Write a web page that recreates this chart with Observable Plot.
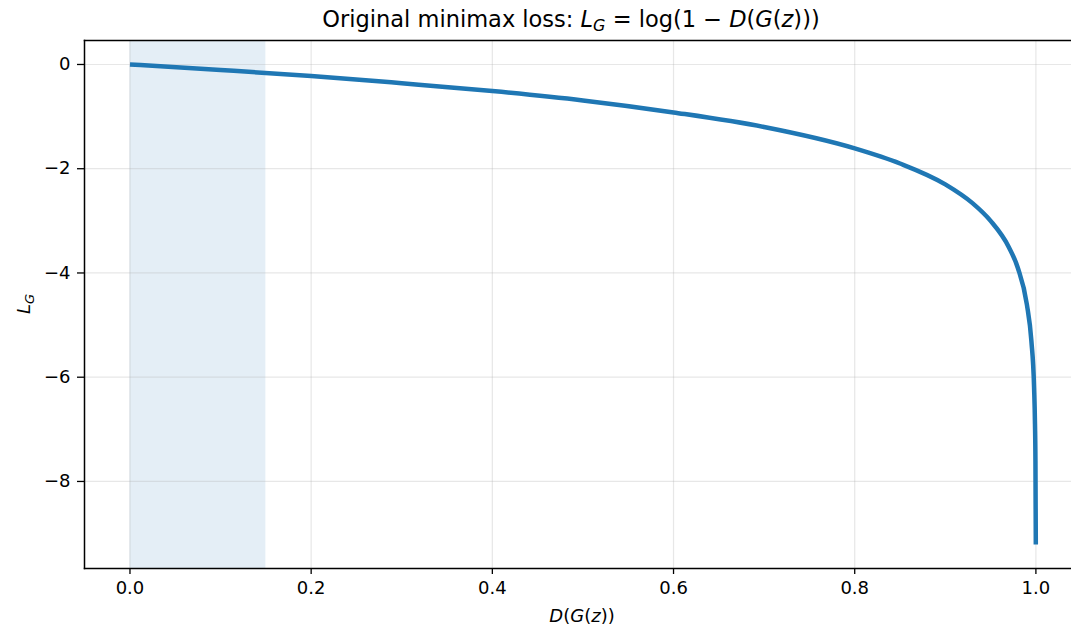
<!DOCTYPE html>
<html>
<head>
<meta charset="utf-8">
<script src="https://cdn.jsdelivr.net/npm/d3@7"></script>
<script src="https://cdn.jsdelivr.net/npm/@observablehq/plot@0.6"></script>
<style>
  html, body { margin: 0; padding: 0; background: #fff; }
  #chart { width: 1071px; height: 628px; overflow: hidden; }
  #chart svg, #chart svg text { font-family: 'DejaVu Sans', sans-serif !important; }
</style>
</head>
<body>
<div id="chart"></div>
<script>
// D(G(z)) values
const dgz = [0, 0.1, 0.2, 0.3, 0.4, 0.5, 0.6, 0.7, 0.8, 0.85, 0.9, 0.93, 0.95, 0.97, 0.98, 0.99, 0.995, 0.998, 0.999, 0.9995, 0.9999];
// L_G values
const lossG = [0, -0.105, -0.22, -0.36, -0.51, -0.69, -0.92, -1.2, -1.61, -1.9, -2.3, -2.66, -3.0, -3.5, -3.9, -4.6, -5.3, -6.2, -6.9, -7.6, -9.21];
// shaded band on D(G(z))
const shadeBand = [0, 0.15];
// tick values
const xTicks = [0, 0.2, 0.4, 0.6, 0.8, 1.0];
const yTicks = [0, -2, -4, -6, -8];

const data = dgz.map((x, i) => ({x, y: lossG[i]}));
const blue = "#1f77b4";

const W = 1071, H = 628;
const mL = 84, mT = 40, mB = 60, mR = 0;

const plot = Plot.plot({
  width: W, height: H,
  marginLeft: mL, marginRight: mR, marginTop: mT, marginBottom: mB,
  style: {fontFamily: "'DejaVu Sans', sans-serif", fontSize: "18px", color: "#000", background: "#fff"},
  x: {domain: [-0.0502, 1.0393]},
  y: {domain: [-9.67, 0.46]},
  marks: [
    Plot.rect([{a: shadeBand[0], b: shadeBand[1]}], {x1: "a", x2: "b", fill: blue, fillOpacity: 0.12}),
    Plot.gridX(xTicks, {stroke: "#b0b0b0", strokeOpacity: 0.3, strokeWidth: 1.2}),
    Plot.gridY(yTicks, {stroke: "#b0b0b0", strokeOpacity: 0.3, strokeWidth: 1.2}),
    Plot.line(data, {x: "x", y: "y", stroke: blue, strokeWidth: 4.5, curve: "monotone-x", strokeLinecap: "butt"}),
    Plot.axisX(xTicks, {tickFormat: d3.format(".1f"), tickSize: 6, tickPadding: 7, label: null, stroke: "#000", strokeWidth: 1.3, fontSize: 18}),
    Plot.axisY(yTicks, {tickFormat: d => d < 0 ? "\u2212" + Math.abs(d) : String(d), tickSize: 7, tickPadding: 7, label: null, stroke: "#000", strokeWidth: 1.3, fontSize: 18}),
    Plot.frame({anchor: "top", stroke: "#000", strokeWidth: 1.5}),
    Plot.frame({anchor: "left", stroke: "#000", strokeWidth: 1.5}),
    Plot.frame({anchor: "bottom", stroke: "#000", strokeWidth: 1.5})
  ]
});
document.getElementById("chart").appendChild(plot);

const svg = d3.select(plot);
// Title
const t = svg.append("text")
  .attr("x", 571).attr("y", 27)
  .attr("text-anchor", "middle")
  .attr("font-size", "22.5px")
  .attr("fill", "#000");
t.append("tspan").text("Original minimax loss: ");
t.append("tspan").attr("font-style", "italic").text("L");
t.append("tspan").attr("font-style", "italic").attr("font-size", "16px").attr("dy", "4").text("G");
t.append("tspan").attr("dy", "-4").text(" = log(1 \u2212 ");
t.append("tspan").attr("font-style", "italic").text("D");
t.append("tspan").text("(");
t.append("tspan").attr("font-style", "italic").text("G");
t.append("tspan").text("(");
t.append("tspan").attr("font-style", "italic").text("z");
t.append("tspan").text(")))");

// X label
const xl = svg.append("text")
  .attr("x", 582).attr("y", 622)
  .attr("text-anchor", "middle")
  .attr("font-size", "18px")
  .attr("fill", "#000");
xl.append("tspan").attr("font-style", "italic").text("D");
xl.append("tspan").text("(");
xl.append("tspan").attr("font-style", "italic").text("G");
xl.append("tspan").text("(");
xl.append("tspan").attr("font-style", "italic").text("z");
xl.append("tspan").text("))");

// Y label
const yl = svg.append("text")
  .attr("transform", "translate(30,304) rotate(-90)")
  .attr("text-anchor", "middle")
  .attr("font-size", "18px")
  .attr("fill", "#000");
yl.append("tspan").attr("font-style", "italic").text("L");
yl.append("tspan").attr("font-style", "italic").attr("font-size", "13px").attr("dy", "3.5").text("G");
</script>
</body>
</html>
